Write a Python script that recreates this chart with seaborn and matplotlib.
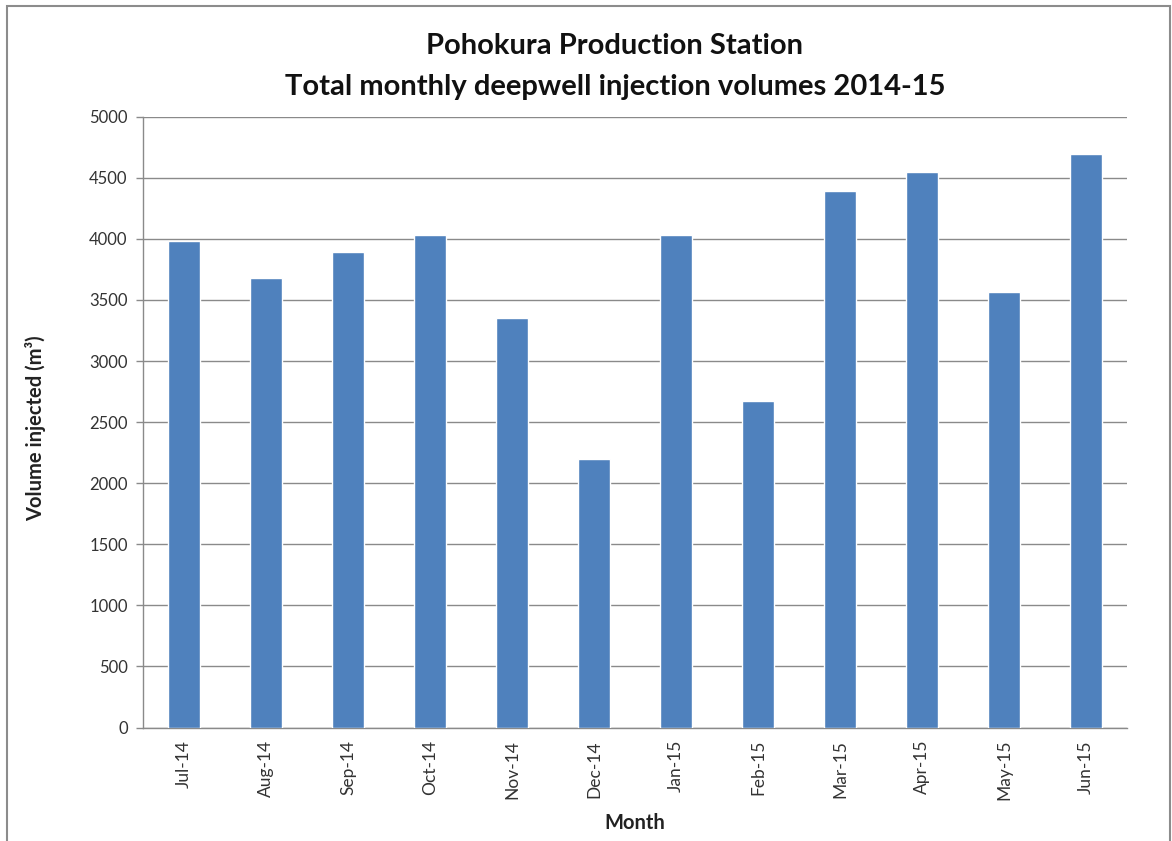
import matplotlib
matplotlib.use("Agg")
import matplotlib.pyplot as plt
import seaborn as sns
import numpy as np
import pandas as pd
from matplotlib.patches import Rectangle

months = ["Jul-14", "Aug-14", "Sep-14", "Oct-14", "Nov-14", "Dec-14",
          "Jan-15", "Feb-15", "Mar-15", "Apr-15", "May-15", "Jun-15"]
volumes = [3980, 3680, 3890, 4035, 3355, 2200,
           4030, 2675, 4395, 4545, 3565, 4695]
y_ticks = [0, 500, 1000, 1500, 2000, 2500, 3000, 3500, 4000, 4500, 5000]

title_lines = ["Pohokura Production Station",
               "Total monthly deepwell injection volumes 2014-15"]

sns.set_theme(style="white")
plt.rcParams["font.family"] = ["Lato", "DejaVu Sans"]

df = pd.DataFrame({"Month": months, "Volume": volumes})

fig = plt.figure(figsize=(11.72, 8.41), dpi=100)
ax = fig.add_axes([143/1172, 1 - 727.5/841, (1127-143)/1172, (727.5-116.7)/841])

sns.barplot(data=df, x="Month", y="Volume", color="#4F81BD", width=0.39,
            saturation=1, ax=ax, zorder=3)

grid_c = "#8a8a8a"
ax.set_ylim(0, 5000)
ax.set_xlim(-0.5, len(months) - 0.5)
ax.set_yticks(y_ticks)
ax.set_yticklabels([str(v) for v in y_ticks], fontsize=12, color="#333333")
ax.yaxis.grid(True, color=grid_c, linewidth=1.0, zorder=0)
ax.set_axisbelow(True)

ax.set_xticks(range(len(months)))
ax.set_xticklabels(months, rotation=90, fontsize=12.5, color="#333333")
ax.set_xticks(np.arange(-0.5, len(months), 1.0), minor=True)
ax.tick_params(axis="x", which="major", length=0, pad=9)
ax.tick_params(axis="x", which="minor", length=6, color=grid_c, width=1, direction="out")
ax.tick_params(axis="y", which="major", length=5, color=grid_c, width=1, direction="out", pad=6, left=True)

for s in ["top", "right"]:
    ax.spines[s].set_visible(False)
for s in ["left", "bottom"]:
    ax.spines[s].set_color(grid_c)
    ax.spines[s].set_linewidth(1.0)

ax.set_xlabel("Month", fontsize=14.5, fontweight="bold", color="#222222", labelpad=9)
ax.set_ylabel("Volume injected (m³)", fontsize=14.5, fontweight="bold", color="#222222", labelpad=24)
ax.yaxis.set_label_coords(-0.098, 0.49)

fig.text(615/1172, 1 - 46/841, title_lines[0], ha="center", va="center",
         fontsize=21, fontweight="bold", color="#111111")
fig.text(615/1172, 1 - 87/841, title_lines[1], ha="center", va="center",
         fontsize=21, fontweight="bold", color="#111111")

fig.patches.append(Rectangle((7/1172, -0.02), (1170-7)/1172, 1 - 6/841 + 0.02,
                             transform=fig.transFigure, fill=False,
                             edgecolor="#8c8c8c", linewidth=1.5))

fig.savefig("out.png", dpi=100)
